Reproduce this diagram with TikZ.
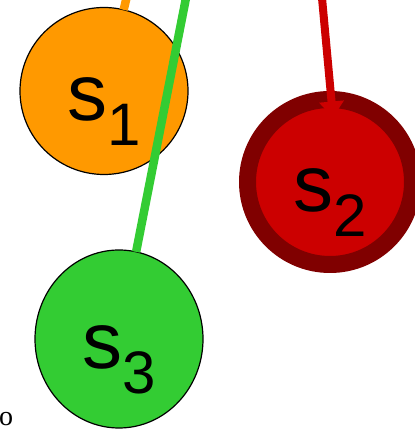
\documentclass[tikz,border=0pt]{standalone}
\usepackage{fontspec}
\setmainfont{Liberation Sans}
\newfontfamily\seriffont{Liberation Serif}
\usetikzlibrary{arrows.meta, shapes.geometric}
\definecolor{sorange}{RGB}{255,153,0}
\definecolor{sred}{RGB}{204,0,0}
\definecolor{sdarkred}{RGB}{128,0,0}
\definecolor{sgreen}{RGB}{51,204,51}
\newcommand{\statelbl}[1]{s\raisebox{-25pt}{\fontsize{60}{60}\selectfont #1}}

\begin{document}
\begin{tikzpicture}[x=1pt, y=1pt,
  state/.style={ellipse, draw=black, line width=1.2pt, inner sep=0pt, outer sep=0pt, font=\fontsize{80}{80}\selectfont, text height=60pt, text depth=0pt},
  link/.style={line width=8.5pt}
]
\useasboundingbox (0,0) rectangle (414,430);
% states
\node[state, fill=sorange, minimum width=168pt, minimum height=167pt] (s1) at (104,339) {\statelbl{1}};
\node[state, fill=sgreen, minimum width=168pt, minimum height=178pt] (s3) at (119,91) {\statelbl{3}};
\node[state, fill=sred, draw=sdarkred, line width=17pt, minimum width=165pt, minimum height=165pt] (s2) at (330,248) {\statelbl{2}};
% incoming links
\coordinate (otop) at (127,434);
\coordinate (gtop) at (186,432);
\coordinate (rtop) at (322,432);
\draw[link, sorange] (otop) -- (s1);
\draw[link, sgreen] (gtop) -- (s3);
\draw[link, line width=8pt, sred, -{Triangle[width=24pt, length=16pt]}] (rtop) -- ([shift={(3,-18)}]s2.north);
\node[font=\seriffont\fontsize{28}{28}\selectfont, anchor=base west, inner sep=0pt] (otext) at (-1,5) {o};
\end{tikzpicture}
\end{document}
